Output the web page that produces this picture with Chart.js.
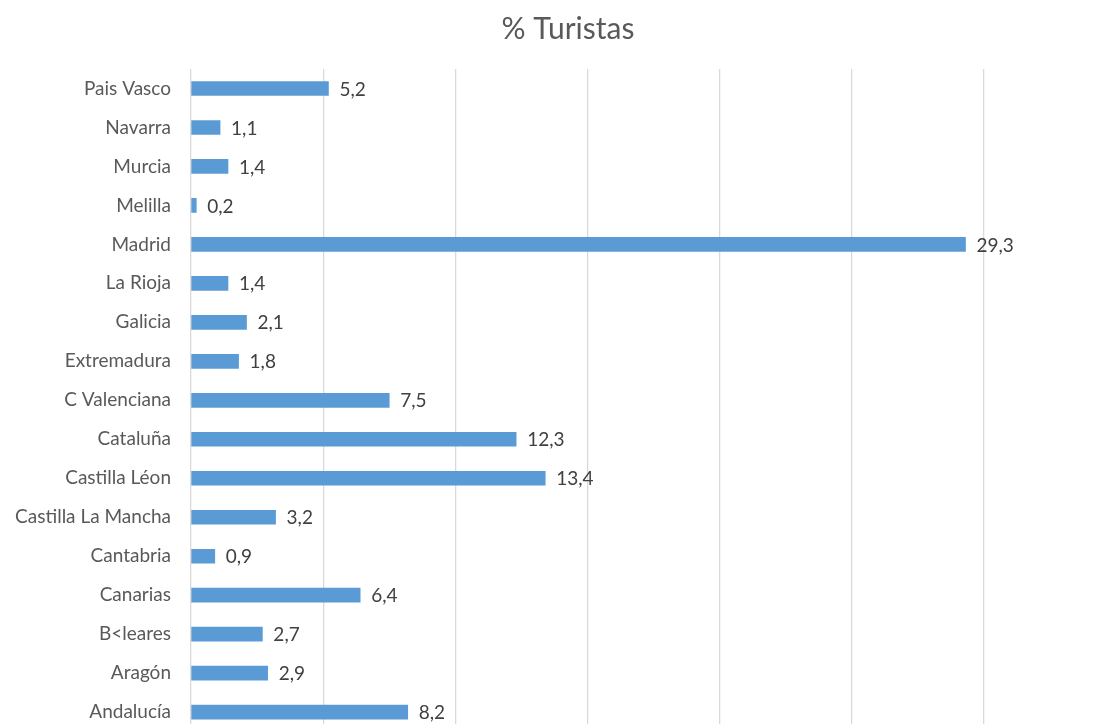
<!DOCTYPE html>
<html>
<head>
<meta charset="utf-8">
<script src="https://cdn.jsdelivr.net/npm/chart.js@4.4.0/dist/chart.umd.min.js"></script>
<style>
  html, body { margin: 0; padding: 0; background: #fff; overflow: hidden; }
  canvas { display: block; }
</style>
</head>
<body>
<canvas id="chart" width="1104" height="763"></canvas>
<script>
const regiones = ['Pais Vasco', 'Navarra', 'Murcia', 'Melilla', 'Madrid', 'La Rioja', 'Galicia',
  'Extremadura', 'C Valenciana', 'Cataluña', 'Castilla Léon', 'Castilla La Mancha', 'Cantabria',
  'Canarias', 'B<leares', 'Aragón', 'Andalucía']
const turistas = [5.2, 1.1, 1.4, 0.2, 29.3, 1.4, 2.1, 1.8, 7.5, 12.3, 13.4, 3.2, 0.9, 6.4, 2.7, 2.9, 8.2]
const titulo = '% Turistas'

const FONT = 'Lato, Carlito, Calibri, sans-serif'

// etiquetas de valor al final de cada barra, con coma decimal
let value_labels = {
  id: 'value_labels',
  afterDatasetsDraw(chart) {
    let ctx = chart.ctx
    let meta = chart.getDatasetMeta(0)
    ctx.save()
    ctx.font = '19px ' + FONT
    ctx.fillStyle = '#404040'
    ctx.textAlign = 'left'
    ctx.textBaseline = 'middle'
    meta.data.forEach((bar, i) => {
      let txt = turistas[i].toFixed(1).replace('.', ',')
      ctx.fillText(txt, bar.x + 11, bar.y + 1)
    })
    ctx.restore()
  }
}

let title_plugin = {
  id: 'title_plugin',
  afterDraw(chart) {
    let ctx = chart.ctx
    ctx.save()
    ctx.font = '30px ' + FONT
    ctx.fillStyle = '#595959'
    ctx.textAlign = 'center'
    ctx.textBaseline = 'middle'
    ctx.fillText(titulo, 568, 29)
    ctx.restore()
  }
}

new Chart(document.getElementById('chart'), {
  type: 'bar',
  data: {
    labels: regiones,
    datasets: [{
      label: titulo,
      data: turistas,
      backgroundColor: '#5B9BD5',
      borderWidth: 0,
      barThickness: 14
    }]
  },
  options: {
    indexAxis: 'y',
    responsive: false,
    animation: false,
    devicePixelRatio: 1,
    layout: { padding: { top: 69, right: 120, bottom: 0, left: 0 } },
    plugins: {
      legend: { display: false },
      tooltip: { enabled: false }
    },
    scales: {
      x: {
        min: 0,
        max: 30,
        ticks: { display: false, stepSize: 5 },
        grid: { color: '#d9d9d9', lineWidth: 1.3, drawTicks: false },
        border: { display: false },
        afterFit(scale) { scale.height = 0 }
      },
      y: {
        ticks: { color: '#595959', font: { family: FONT, size: 19 }, padding: 20, autoSkip: false },
        grid: { display: false, drawTicks: false },
        border: { display: false },
        afterFit(scale) { scale.width = 191 }
      }
    }
  },
  plugins: [value_labels, title_plugin]
})
</script>
</body>
</html>
